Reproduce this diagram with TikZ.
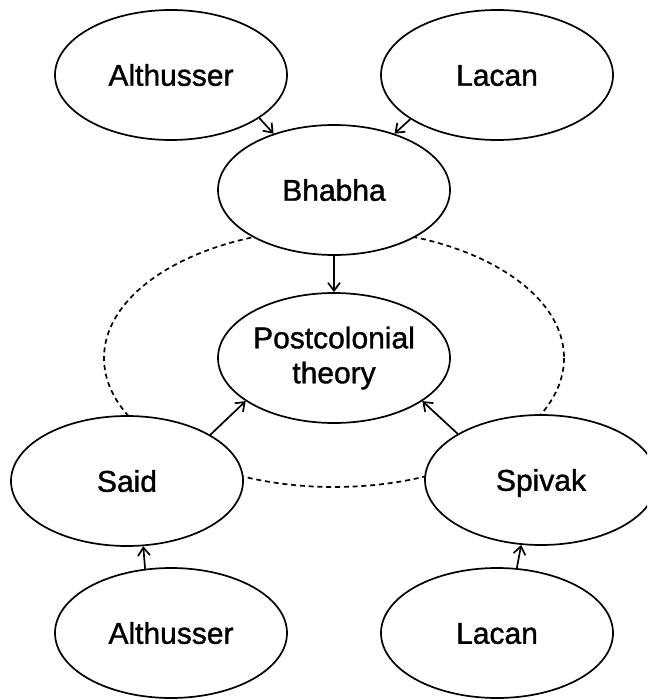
\documentclass[tikz,border=0pt]{standalone}
\usepackage{fontspec}
\setmainfont{Liberation Sans}
\newfontfamily\namefont{Liberation Sans}[RawFeature={embolden=1.2}]
\usetikzlibrary{shapes.geometric,arrows.meta,backgrounds}

\tikzset{
  thinker/.style={ellipse, draw, line width=1.7pt, fill=white,
    minimum width=232pt, minimum height=130pt, inner sep=0pt,
    align=center, font=\namefont\fontsize{30}{35}\selectfont},
  oneline/.style={text height=21.5pt, text depth=0pt},
  influence/.style={line width=1.7pt,
    -{Straight Barb[length=8pt,width=12pt,line width=1.7pt]}},
  ring/.style={line width=1.7pt, dash pattern=on 5pt off 3.8pt}
}

\begin{document}
\begin{tikzpicture}[x=1pt,y=-1pt]
  \useasboundingbox (0,0) rectangle (647,700);
  \clip (0,0) rectangle (647,700);

  % thinkers
  \node[thinker,oneline] (alt1) at (171,75)  {Althusser};
  \node[thinker,oneline] (lac1) at (497,75)  {Lacan};
  \node[thinker,oneline] (bha)  at (334,190) {Bhabha};
  \node[thinker]         (post) at (334,358) {Postcolonial\\theory};
  \node[thinker,oneline] (said) at (127,481) {Said};
  \node[thinker,oneline] (spiv) at (541,480) {Spivak};
  \node[thinker,oneline] (alt2) at (171,633) {Althusser};
  \node[thinker,oneline] (lac2) at (497,633) {Lacan};

  % dashed ring linking Bhabha, Said and Spivak
  \begin{scope}[on background layer]
    \draw[ring] (post.center) ellipse [x radius=230, y radius=129];
  \end{scope}

  % lines of influence
  \draw[influence] (alt1.-26)  -- (bha.137);
  \draw[influence] (lac1.-153) -- (bha.43);
  \draw[influence] (bha.south) -- (post.north);
  \draw[influence] (said.29)   -- (post.206);
  \draw[influence] (spiv.151)  -- (post.-26);
  \draw[influence] (alt2.112)  -- (said.-76);
  \draw[influence] (lac2.73)   -- (spiv.-107);
\end{tikzpicture}
\end{document}
